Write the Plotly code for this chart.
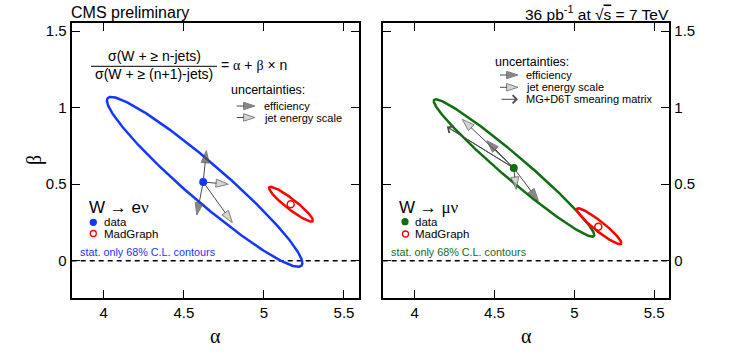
import numpy as np
import plotly.graph_objects as go

W, H = 741, 356

# ---------------- data ----------------
alpha_tickvals = [4, 4.5, 5, 5.5]
alpha_ticktext = ["4", "4.5", "5", "5.5"]
beta_tickvals = [0, 0.5, 1, 1.5]
beta_ticktext = ["0", "0.5", "1", "1.5"]
alpha_range = [3.8, 5.595]
beta_range = [-0.244, 1.551]

# W -> e nu
e_data_alpha = [4.621]
e_data_beta = [0.514]
e_mg_alpha = [5.167]
e_mg_beta = [0.368]
# contour: centre alpha, centre beta, half-extent alpha, half-extent beta, correlation
e_data_contour = [4.63, 0.515, 0.61, 0.555, -0.9565]
e_mg_contour = [5.169, 0.369, 0.137, 0.114, -0.93]
e_eff_alpha = [4.641, 4.581]
e_eff_beta = [0.720, 0.298]
e_jes_alpha = [4.778, 4.803]
e_jes_beta = [0.499, 0.248]

# W -> mu nu
m_data_alpha = [4.621]
m_data_beta = [0.605]
m_mg_alpha = [5.15]
m_mg_beta = [0.222]
m_data_contour = [4.6225, 0.6055, 0.5025, 0.449, -0.975]
m_mg_contour = [5.155, 0.225, 0.14, 0.1175, -0.937]
m_eff_alpha = [4.452, 4.775]
m_eff_beta = [0.784, 0.392]
m_jes_alpha = [4.298, 4.636]
m_jes_beta = [0.924, 0.466]
m_smear_alpha = [4.202]
m_smear_beta = [0.875]

# ---------------- style ----------------
SANS = "Liberation Sans, Arial, Helvetica, sans-serif"
SERIF = "Liberation Serif, Times New Roman, serif"
BLUE = "#1438ff"
GREEN = "#0f6e0f"
RED = "#ff0000"
DARK = "#555555"
LIGHT = "#c4c4c4"
LINE = "#4a4a4a"

XL = [71.7, 359.2]
XR = [382.7, 669.3]
YT, YB = 23.3, 298.0


def contour(p, n=361):
    cx, cy, a, b, rho = p
    t = np.linspace(0, 2 * np.pi, n)
    return cx + a * np.cos(t), cy + b * (rho * np.cos(t) + np.sqrt(1 - rho ** 2) * np.sin(t))


fig = go.Figure()


def add_contour(p, color, xa, ya):
    x, y = contour(p)
    fig.add_trace(go.Scatter(x=x, y=y, mode="lines", line=dict(color=color, width=2.5),
                             xaxis=xa, yaxis=ya, hoverinfo="skip", showlegend=False))


def add_arrow(x0, y0, x1, y1, fill, xa, ya, size=13):
    fig.add_trace(go.Scatter(x=[x0, x1], y=[y0, y1], mode="lines+markers", xaxis=xa, yaxis=ya,
                             line=dict(color=LINE, width=1),
                             marker=dict(symbol="arrow", angleref="previous", size=[0, size],
                                         color=fill, line=dict(color=LINE, width=1)),
                             hoverinfo="skip", showlegend=False))


def add_point(x, y, color, filled, xa, ya, size=6.5):
    fig.add_trace(go.Scatter(x=x, y=y, mode="markers", xaxis=xa, yaxis=ya,
                             marker=dict(symbol="circle" if filled else "circle-open", size=size,
                                         color=color, line=dict(color=color, width=1.5)),
                             hoverinfo="skip", showlegend=False))


# left panel
add_contour(e_data_contour, BLUE, "x", "y")
add_contour(e_mg_contour, RED, "x", "y")
for ea, eb in zip(e_eff_alpha, e_eff_beta):
    add_arrow(e_data_alpha[0], e_data_beta[0], ea, eb, DARK, "x", "y")
for ja, jb in zip(e_jes_alpha, e_jes_beta):
    add_arrow(e_data_alpha[0], e_data_beta[0], ja, jb, LIGHT, "x", "y")
add_point(e_data_alpha, e_data_beta, BLUE, True, "x", "y")
add_point(e_mg_alpha, e_mg_beta, RED, False, "x", "y", size=7)

# right panel
add_contour(m_data_contour, GREEN, "x2", "y2")
add_contour(m_mg_contour, RED, "x2", "y2")
for sa, sb in zip(m_smear_alpha, m_smear_beta):
    fig.add_trace(go.Scatter(x=[m_data_alpha[0], sa], y=[m_data_beta[0], sb], mode="lines",
                             xaxis="x2", yaxis="y2", line=dict(color=LINE, width=1),
                             hoverinfo="skip", showlegend=False))
for ea, eb in zip(m_eff_alpha, m_eff_beta):
    add_arrow(m_data_alpha[0], m_data_beta[0], ea, eb, DARK, "x2", "y2")
for ja, jb in zip(m_jes_alpha, m_jes_beta):
    add_arrow(m_data_alpha[0], m_data_beta[0], ja, jb, LIGHT, "x2", "y2")
add_point(m_data_alpha, m_data_beta, GREEN, True, "x2", "y2")
add_point(m_mg_alpha, m_mg_beta, RED, False, "x2", "y2", size=7)


# ---------------- overlay (pixel frame of the picture) for legends / text ----------------
def ov_arrow(x0, x1, y, fill, size=12):
    fig.add_trace(go.Scatter(x=[x0, x1], y=[y, y], mode="lines+markers", xaxis="x3", yaxis="y3",
                             line=dict(color=LINE, width=1),
                             marker=dict(symbol="arrow", angleref="previous", size=[0, size],
                                         color=fill, line=dict(color=LINE, width=1)),
                             hoverinfo="skip", showlegend=False))


ov_arrow(236.7, 255, 106, DARK)
ov_arrow(236.7, 255, 117.5, LIGHT)
ov_arrow(500, 518, 75, DARK)
ov_arrow(500, 518, 87.3, LIGHT)

for x, y, c, f in [(93.3, 222.3, BLUE, True), (93.3, 233.5, RED, False),
                   (405, 221.7, GREEN, True), (405.5, 234, RED, False)]:
    fig.add_trace(go.Scatter(x=[x], y=[y], mode="markers", xaxis="x3", yaxis="y3",
                             marker=dict(symbol="circle" if f else "circle-open", size=6,
                                         color=c, line=dict(color=c, width=1.3)),
                             hoverinfo="skip", showlegend=False))

ann = []


def text(x, y, s, size, color="black", xanchor="left", family=SANS, **kw):
    d = dict(x=x, y=y, xref="x3", yref="y3", text=s, showarrow=False, xanchor=xanchor,
             yanchor="middle", font=dict(size=size, color=color, family=family))
    d.update(kw)
    ann.append(d)


def greek(s):
    return "<span style='font-family:%s'>%s</span>" % (SERIF, s)


text(69, 12.5, "CMS preliminary", 16)
text(671, 12.5, "36 pb<sup>-1</sup> at √<span style='text-decoration:overline'>s</span> = 7 TeV", 15.5,
     xanchor="right")

# formula
text(154, 56, "σ(W + ≥ n-jets)", 14, xanchor="center")
text(154, 74, "σ(W + ≥ (n+1)-jets)", 14, xanchor="center")
text(219, 65, "= " + greek("α") + " + " + greek("β") + " × n", 14)

# uncertainties legends
text(229, 90, "uncertainties:", 12.5)
text(262, 106, "efficiency", 11)
text(262, 117.5, "jet energy scale", 11)
text(493, 61.7, "uncertainties:", 12.5)
text(524, 75, "efficiency", 11)
text(524, 87.3, "jet energy scale", 11)
text(524, 99.3, "MG+D6T smearing matrix", 11)
ann.append(dict(x=518, y=99.3, ax=500, ay=99.3, xref="x3", yref="y3", axref="x3", ayref="y3",
                text="", showarrow=True, arrowhead=4, arrowsize=1.6, arrowwidth=1, arrowcolor=LINE))
# smearing-matrix arrow head in the data panel
for sa, sb in zip(m_smear_alpha, m_smear_beta):
    ann.append(dict(x=sa, y=sb, ax=m_data_alpha[0], ay=m_data_beta[0], xref="x2", yref="y2",
                    axref="x2", ayref="y2", text="", showarrow=True, arrowhead=4, arrowsize=1.6,
                    arrowwidth=1, arrowcolor=LINE))

# channel labels
text(87, 207, "W → e" + greek("ν"), 17)
text(102, 222.3, "data", 11.5)
text(102, 233.5, "MadGraph", 11.5)
text(77.5, 251.5, "stat. only 68% C.L. contours", 10.8, color=BLUE)
text(397, 207, "W → " + greek("μν"), 17)
text(413, 221.7, "data", 11.5)
text(413, 234, "MadGraph", 11.5)
text(389, 251.5, "stat. only 68% C.L. contours", 10.8, color=GREEN)

# axis titles
text(34, 160, greek("β"), 20, xanchor="center", textangle=-90)
text(215.5, 336, greek("α"), 20, xanchor="center")
text(526, 336, greek("α"), 20, xanchor="center")

shapes = [
    dict(type="line", xref="x3", yref="y3", x0=91, x1=217, y0=66.3, y1=66.3,
         line=dict(color="black", width=1)),
    dict(type="line", xref="x domain", yref="y", x0=0, x1=1, y0=0, y1=0, layer="below",
         line=dict(color="black", width=1.5, dash="5px,4px")),
    dict(type="line", xref="x2 domain", yref="y2", x0=0, x1=1, y0=0, y1=0, layer="below",
         line=dict(color="black", width=1.5, dash="5px,4px")),
]

tickfont = dict(size=15, family=SANS, color="black")


def xax(dom, anchor):
    return dict(domain=[dom[0] / W, dom[1] / W], anchor=anchor, range=alpha_range,
                tickvals=alpha_tickvals, ticktext=alpha_ticktext, ticks="inside", ticklen=8,
                tickwidth=1.3, tickcolor="black", showline=True, linewidth=2, linecolor="black",
                mirror="ticks", showgrid=False, zeroline=False, tickfont=tickfont, fixedrange=True)


def yax(anchor, side):
    return dict(domain=[1 - YB / H, 1 - YT / H], anchor=anchor, side=side, range=beta_range,
                tickvals=beta_tickvals, ticktext=beta_ticktext, ticks="inside", ticklen=8,
                tickwidth=1.3, tickcolor="black", showline=True, linewidth=2, linecolor="black",
                mirror="ticks", showgrid=False, zeroline=False, tickfont=tickfont, fixedrange=True)


fig.update_layout(
    width=W, height=H, autosize=False,
    margin=dict(l=0, r=0, t=0, b=0),
    paper_bgcolor="white", plot_bgcolor="rgba(0,0,0,0)",
    showlegend=False, hovermode=False,
    xaxis=xax(XL, "y"), yaxis=yax("x", "left"),
    xaxis2=xax(XR, "y2"), yaxis2=yax("x2", "right"),
    xaxis3=dict(domain=[0, 1], range=[0, W], visible=False, anchor="y3", fixedrange=True),
    yaxis3=dict(domain=[0, 1], range=[H, 0], visible=False, anchor="x3", fixedrange=True),
    annotations=ann, shapes=shapes,
    font=dict(family=SANS, color="black"),
)

fig.write_html("out.html", config={"displayModeBar": False},
               post_script="document.body.style.margin='0px';document.body.style.overflow='hidden';")
